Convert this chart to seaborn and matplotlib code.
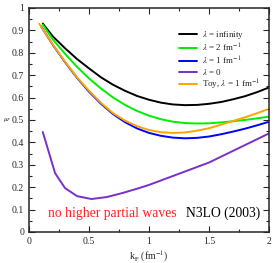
import numpy as np
import pandas as pd
import seaborn as sns
import matplotlib
matplotlib.use("Agg")
import matplotlib.pyplot as plt
from matplotlib.ticker import MultipleLocator

# values
k_inf = [0.115, 0.2, 0.3, 0.4, 0.5, 0.6, 0.7, 0.8, 0.9, 1.0, 1.1, 1.2, 1.3, 1.4, 1.5, 1.6, 1.7, 1.8, 1.9, 2.0]
mu_inf = [0.93, 0.872, 0.82, 0.772, 0.73, 0.69, 0.657, 0.63, 0.607, 0.59, 0.577, 0.569, 0.566, 0.567, 0.572, 0.58, 0.592, 0.606, 0.624, 0.645]

k_l2 = [0.115, 0.2, 0.3, 0.4, 0.5, 0.6, 0.7, 0.8, 0.9, 1.0, 1.1, 1.2, 1.3, 1.4, 1.5, 1.6, 1.7, 1.8, 1.9, 2.0]
mu_l2 = [0.925, 0.858, 0.795, 0.737, 0.685, 0.64, 0.60, 0.567, 0.54, 0.519, 0.503, 0.492, 0.486, 0.484, 0.485, 0.489, 0.494, 0.50, 0.507, 0.515]

k_l1 = [0.1, 0.2, 0.3, 0.4, 0.5, 0.6, 0.7, 0.8, 0.9, 1.0, 1.1, 1.2, 1.3, 1.4, 1.5, 1.6, 1.7, 1.8, 1.9, 2.0]
mu_l1 = [0.918, 0.834, 0.758, 0.688, 0.626, 0.572, 0.526, 0.49, 0.462, 0.442, 0.429, 0.421, 0.418, 0.42, 0.426, 0.436, 0.448, 0.461, 0.476, 0.492]

k_l0 = [0.115, 0.217, 0.3, 0.4, 0.52, 0.65, 0.78, 0.9, 1.0, 1.25, 1.5, 1.75, 2.0]
mu_l0 = [0.446, 0.263, 0.196, 0.16, 0.147, 0.156, 0.174, 0.193, 0.21, 0.26, 0.31, 0.375, 0.44]

k_toy = [0.085, 0.2, 0.3, 0.4, 0.5, 0.6, 0.7, 0.8, 0.9, 1.0, 1.1, 1.2, 1.3, 1.4, 1.5, 1.6, 1.7, 1.8, 1.9, 1.98]
mu_toy = [0.93, 0.835, 0.76, 0.69, 0.63, 0.576, 0.53, 0.497, 0.472, 0.455, 0.445, 0.442, 0.444, 0.452, 0.463, 0.479, 0.495, 0.512, 0.53, 0.546]

labels = [r"$\lambda$ = infinity", r"$\lambda$ = 2 fm$^{-1}$", r"$\lambda$ = 1 fm$^{-1}$",
          r"$\lambda$ = 0", r"Toy, $\lambda$ = 1 fm$^{-1}$"]
colors = ["black", "#00ee00", "#0000ff", "#7a2fc8", "#ffa500"]

sns.set_style("ticks")
plt.rcParams["font.family"] = ["Liberation Serif", "DejaVu Serif"]
plt.rcParams["mathtext.fontset"] = "stix"

fig = plt.figure(figsize=(2.76, 2.63), dpi=100)
ax = fig.add_axes([0.105, 0.118, 0.87, 0.852])

series = [(k_inf, mu_inf), (k_l2, mu_l2), (k_l1, mu_l1), (k_l0, mu_l0), (k_toy, mu_toy)]
for (k, mu), lab, c in zip(series, labels, colors):
    df = pd.DataFrame({"k": k, "mu": mu})
    sns.lineplot(data=df, x="k", y="mu", color=c, lw=1.4, label=lab, ax=ax, sort=False)

ax.set_xticks([0, 0.5, 1.0, 1.5, 2.0])
ax.set_xticklabels(["0", "0.5", "1", "1.5", "2"])
ax.xaxis.set_minor_locator(MultipleLocator(0.25))
ax.set_yticks([0, 0.1, 0.2, 0.3, 0.4, 0.5, 0.6, 0.7, 0.8, 0.9, 1.0])
ax.set_yticklabels(["0", "0.1", "0.2", "0.3", "0.4", "0.5", "0.6", "0.7", "0.8", "0.9", "1"])
ax.yaxis.set_minor_locator(MultipleLocator(0.05))
ax.set_xlim(0, 2)
ax.set_ylim(0, 1)
ax.tick_params(which="both", direction="in", top=True, right=True, labelsize=7, width=0.8)
ax.tick_params(which="major", length=4)
ax.tick_params(which="minor", length=2)
for s in ax.spines.values():
    s.set_linewidth(1.1)

ax.set_xlabel(r"k$_\mathrm{F}$ (fm$^{-1}$)", fontsize=7, labelpad=2)
ax.set_ylabel("")
fig.text(0.012, 0.545, r"$\mu_F$", fontsize=5, va="center")

ax.legend(loc="upper left", bbox_to_anchor=(0.61, 0.92), frameon=False, fontsize=6.5,
          handlelength=2.0, handletextpad=0.5, labelspacing=0.05, borderaxespad=0)

ax.text(0.079, 0.067, "no higher partial waves", color="#ff2020", fontsize=9.8,
        va="baseline", transform=ax.transAxes)
ax.text(0.654, 0.067, "N3LO (2003)", color="black", fontsize=9.8,
        va="baseline", transform=ax.transAxes)

fig.savefig("out.png", dpi=100)
